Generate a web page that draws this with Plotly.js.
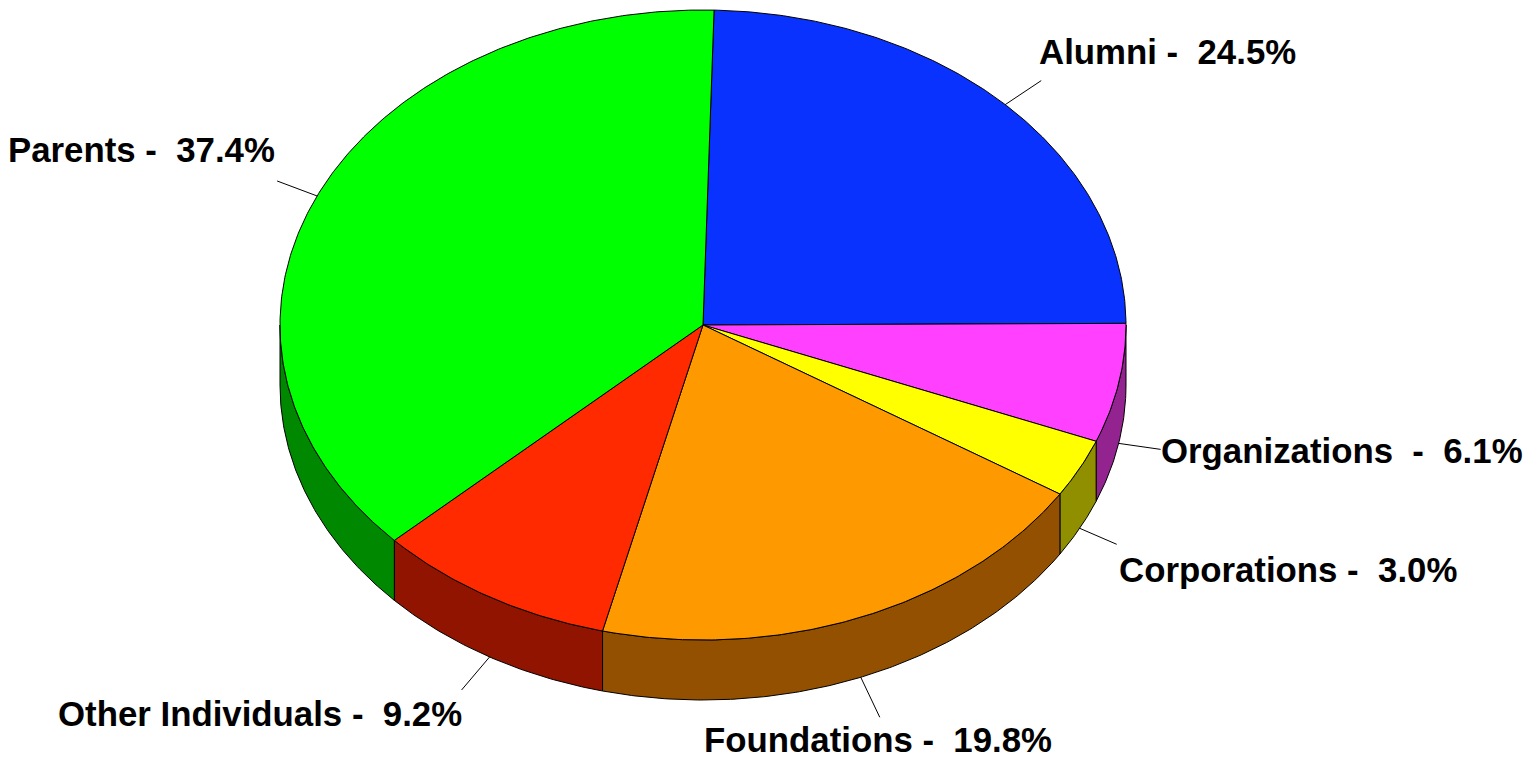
<!DOCTYPE html>
<html>
<head>
<meta charset="utf-8">
<script src="https://cdn.plot.ly/plotly-3.0.1.min.js"></script>
<style>html,body{margin:0;padding:0;background:#fff;}#chart{width:1530px;height:758px;}</style>
</head>
<body>
<div id="chart"></div>
<script>
// ---- data ----
const categories = ['Alumni', 'Organizations', 'Corporations', 'Foundations', 'Other Individuals', 'Parents'];
const shares = [24.5, 6.1, 3.0, 19.8, 9.2, 37.4];
const separators = [' -  ', '  -  ', ' -  ', ' -  ', ' -  ', ' -  '];

// ---- styles ----
const topColors = ['#0A32FF', '#FF40FF', '#FFFF00', '#FF9900', '#FF2A00', '#00FF00'];
const sideColors = ['#0A1E99', '#93238F', '#8F8F00', '#925000', '#901400', '#008800'];
const geom = {cx: 703, cy: 325, rx: 423, ry: 315, depth: 60, startDeg: 1.5};
// leader line end offsets from the slice anchor (px), and text offsets from the line end
const leader = [
  {dx: 36, dy: -24, tx: -4, ty: -29, anchor: 'left'},
  {dx: 42, dy: 6, tx: -2, ty: 1, anchor: 'left'},
  {dx: 37, dy: 16, tx: 0, ty: 25, anchor: 'left'},
  {dx: 19, dy: 40, tx: -2, ty: 22, anchor: 'center'},
  {dx: -28, dy: 33, tx: 2, ty: 24, anchor: 'right'},
  {dx: -40, dy: -15, tx: 0, ty: -31, anchor: 'right'}
];

const rad = d => d * Math.PI / 180;
function pt(deg, dz) {
  return [geom.cx + geom.rx * Math.sin(rad(deg)), geom.cy - geom.ry * Math.cos(rad(deg)) + dz];
}
function arc(a, b, dz) {
  const xs = [], ys = [];
  const n = Math.max(2, Math.ceil(Math.abs(b - a) / 0.5));
  for (let i = 0; i <= n; i++) {
    const p = pt(a + (b - a) * i / n, dz);
    xs.push(p[0]); ys.push(p[1]);
  }
  return [xs, ys];
}

const total = shares.reduce((s, v) => s + v, 0);
const ranges = [];
let acc = geom.startDeg;
shares.forEach(v => { const span = v / total * 360; ranges.push([acc, acc + span]); acc += span; });

const traces = [];
// side walls (front half, 90..270 deg)
ranges.forEach((r, i) => {
  const a = Math.max(r[0], 90), b = Math.min(r[1], 270);
  if (b <= a) return;
  const t = arc(a, b, 0), bt = arc(b, a, geom.depth);
  traces.push({
    type: 'scatter', mode: 'lines', fill: 'toself', fillcolor: sideColors[i],
    x: t[0].concat(bt[0]).concat([t[0][0]]), y: t[1].concat(bt[1]).concat([t[1][0]]),
    line: {color: '#000', width: 1}, hoverinfo: 'skip', showlegend: false
  });
});
// top faces
ranges.forEach((r, i) => {
  const t = arc(r[0], r[1], 0);
  traces.push({
    type: 'scatter', mode: 'lines', fill: 'toself', fillcolor: topColors[i],
    x: [geom.cx].concat(t[0]).concat([geom.cx]), y: [geom.cy].concat(t[1]).concat([geom.cy]),
    line: {color: '#000', width: 1}, hoverinfo: 'skip', showlegend: false
  });
});

const shapes = [], annotations = [];
ranges.forEach((r, i) => {
  let mid = (r[0] + r[1]) / 2;
  const m = ((mid % 360) + 360) % 360;
  const dz = (m > 90 && m < 270) ? geom.depth : 0;
  const p = pt(mid, dz);
  const L = leader[i];
  const ex = p[0] + L.dx, ey = p[1] + L.dy;
  shapes.push({type: 'line', xref: 'x', yref: 'y', x0: p[0], y0: p[1], x1: ex, y1: ey,
    line: {color: '#000', width: 1}});
  const txt = '<b>' + (categories[i] + separators[i] + shares[i].toFixed(1) + '%').replace(/ /g, '\u00a0') + '</b>';
  annotations.push({xref: 'x', yref: 'y', x: ex + L.tx, y: ey + L.ty, text: txt, showarrow: false,
    xanchor: L.anchor, yanchor: 'middle',
    font: {family: 'Liberation Sans, Arial, sans-serif', size: 34.8, color: '#000'}});
});

const layout = {
  width: 1530, height: 758, margin: {l: 0, r: 0, t: 0, b: 0},
  paper_bgcolor: '#fff', plot_bgcolor: '#fff',
  xaxis: {range: [0, 1530], visible: false, fixedrange: true},
  yaxis: {range: [758, 0], visible: false, fixedrange: true},
  shapes: shapes, annotations: annotations, hovermode: false, showlegend: false
};
Plotly.newPlot('chart', traces, layout, {displayModeBar: false, staticPlot: true});
</script>
</body>
</html>
